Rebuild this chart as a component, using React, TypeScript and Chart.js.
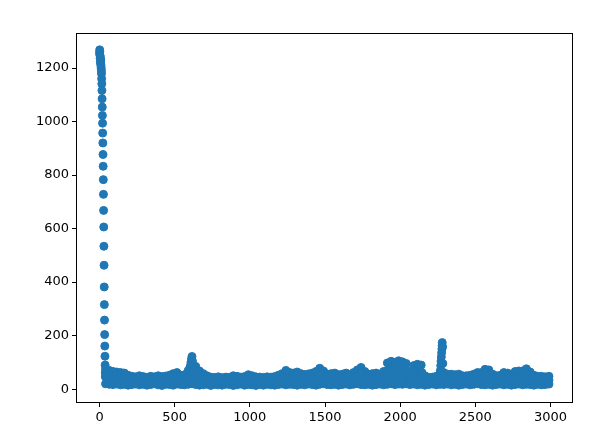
import React, { useEffect, useRef } from "react";
import { Chart, registerables } from "chart.js";

Chart.register(...registerables);

// Tick labels
const xTicks = [0, 500, 1000, 1500, 2000, 2500, 3000];
const yTicks = [0, 200, 400, 600, 800, 1000, 1200];

// Initial decay (index, value)
const decayX = [0, 1, 2, 3, 4, 5, 6, 7, 8, 9, 10, 11, 12, 13, 14, 15, 16, 17, 18, 19, 20, 21, 22, 23, 24, 25, 26, 27, 28, 29, 30, 31, 32, 33, 34, 35, 36, 37, 38, 39];
const decayY = [1255, 1268, 1262, 1248, 1236, 1242, 1225, 1218, 1230, 1212, 1205, 1198, 1190, 1179, 1160, 1141, 1116, 1085, 1054, 1023, 994, 957, 920, 877, 833, 783, 728, 668, 606, 534, 463, 382, 316, 258, 204, 161, 123, 90, 62, 48];

// Noise band sampled every 25 indices from 40 to 2990
const bandStart = 40;
const bandStep = 25;
const bandHigh = [
  75, 70, 66, 64, 62, 60, 52, 48, 46, 50,
  47, 44, 48, 46, 50, 47, 49, 52, 58, 62,
  52, 54, 70, 122, 85, 68, 58, 50, 45, 44,
  46, 43, 45, 44, 50, 48, 45, 47, 54, 50,
  46, 45, 44, 46, 45, 47, 52, 58, 70, 62,
  60, 64, 58, 55, 57, 60, 66, 78, 68, 56,
  58, 60, 54, 56, 60, 55, 62, 72, 81, 66,
  56, 58, 60, 56, 66, 98, 104, 100, 106, 102,
  96, 60, 88, 93, 90, 50, 44, 45, 48, 60,
  62, 56, 56, 54, 56, 50, 50, 52, 56, 62,
  62, 74, 72, 56, 50, 52, 62, 60, 50, 66,
  68, 68, 76, 64, 52, 48, 48, 46, 48,
];
const bandMid = [
  45, 42, 40, 38, 38, 36, 34, 32, 31, 33,
  32, 30, 32, 31, 33, 31, 33, 34, 36, 40,
  34, 35, 42, 50, 48, 40, 36, 33, 30, 30,
  31, 29, 30, 30, 32, 31, 30, 31, 35, 33,
  30, 31, 29, 31, 30, 31, 34, 36, 42, 38,
  37, 40, 36, 35, 36, 38, 40, 45, 42, 36,
  37, 38, 34, 35, 38, 35, 38, 44, 47, 40,
  36, 37, 38, 35, 40, 45, 48, 46, 50, 48,
  46, 38, 44, 46, 44, 32, 30, 31, 32, 38,
  40, 36, 35, 35, 35, 33, 33, 34, 36, 38,
  38, 44, 42, 35, 32, 34, 38, 38, 32, 40,
  42, 42, 45, 40, 33, 32, 32, 31, 33,
];
const bandLow = [
  20, 18, 17, 19, 16, 18, 15, 17, 19, 16,
  18, 15, 17, 20, 16, 14, 18, 17, 15, 19,
  17, 16, 18, 20, 17, 15, 16, 18, 14, 17,
  16, 15, 18, 17, 14, 16, 19, 15, 17, 16,
  14, 17, 15, 18, 16, 15, 17, 19, 16, 18,
  17, 15, 18, 16, 19, 17, 15, 18, 20, 17,
  16, 18, 15, 17, 19, 16, 18, 20, 17, 16,
  18, 15, 17, 19, 16, 18, 20, 17, 19, 18,
  20, 17, 19, 16, 18, 15, 17, 19, 16, 18,
  17, 19, 16, 18, 15, 17, 19, 16, 18, 20,
  17, 16, 18, 15, 17, 19, 16, 18, 15, 17,
  19, 16, 18, 17, 15, 18, 16, 17, 19,
];

// Extra points inside the spikes
const peakX = [595, 603, 608, 612, 618, 625, 632, 645, 1465, 1740, 2565, 2840,
  1915, 1930, 1940, 1955, 1965, 1980, 1990, 2000, 2015, 2030, 2040,
  2085, 2100, 2115, 2130, 2145,
  2268, 2270, 2272, 2274, 2276, 2278, 2279, 2280, 2282, 2284];
const peakY = [55, 85, 100, 112, 105, 88, 70, 60, 56, 58, 52, 55,
  70, 72, 78, 74, 75, 80, 72, 78, 74, 70, 72,
  64, 68, 66, 68, 62,
  70, 88, 104, 120, 136, 150, 162, 174, 158, 96];

const BLUE = "#1f77b4";

export default function App() {
  const ref = useRef<HTMLCanvasElement | null>(null);

  useEffect(() => {
    if (!ref.current) return;
    const pts: { x: number; y: number }[] = [];
    decayX.forEach((x, i) => pts.push({ x, y: decayY[i] }));
    bandHigh.forEach((_, i) => {
      const x = bandStart + i * bandStep;
      pts.push({ x, y: bandLow[i] });
      pts.push({ x, y: bandMid[i] });
      pts.push({ x, y: bandHigh[i] });
    });
    peakX.forEach((x, i) => pts.push({ x, y: peakY[i] }));

    const frame = {
      id: "frame",
      afterDraw(chart: any) {
        const { ctx, chartArea } = chart;
        ctx.save();
        ctx.strokeStyle = "#000";
        ctx.lineWidth = 1;
        ctx.strokeRect(
          Math.round(chartArea.left) - 0.5,
          Math.round(chartArea.top) + 0.5,
          Math.round(chartArea.right - chartArea.left),
          Math.round(chartArea.bottom - chartArea.top)
        );
        ctx.restore();
      },
    };

    const font = { family: "DejaVu Sans", size: 13 };
    const chart = new Chart(ref.current, {
      type: "scatter",
      data: {
        datasets: [
          {
            data: pts,
            backgroundColor: BLUE,
            borderColor: BLUE,
            borderWidth: 1,
            pointRadius: 4,
          },
        ],
      },
      options: {
        animation: false,
        responsive: false,
        devicePixelRatio: 1,
        layout: { padding: { left: 0, right: 22, top: 33, bottom: 0 } },
        plugins: { legend: { display: false }, tooltip: { enabled: false } },
        scales: {
          x: {
            type: "linear",
            min: -150,
            max: 3150,
            afterBuildTicks: (s: any) => {
              s.ticks = xTicks.map((v) => ({ value: v }));
            },
            afterFit: (s: any) => {
              s.height = 44;
            },
            border: { display: false },
            grid: {
              drawOnChartArea: false,
              drawTicks: true,
              tickLength: 5,
              color: "#000",
              lineWidth: 1,
            },
            ticks: {
              color: "#000",
              font,
              padding: 3,
              maxRotation: 0,
              autoSkip: false,
              callback: (v: any) => String(v),
            },
          },
          y: {
            type: "linear",
            min: -48,
            max: 1331,
            afterBuildTicks: (s: any) => {
              s.ticks = yTicks.map((v) => ({ value: v }));
            },
            afterFit: (s: any) => {
              s.width = 77;
            },
            border: { display: false },
            grid: {
              drawOnChartArea: false,
              drawTicks: true,
              tickLength: 5,
              color: "#000",
              lineWidth: 1,
            },
            ticks: {
              color: "#000",
              font,
              padding: 3,
              autoSkip: false,
              callback: (v: any) => String(v),
            },
          },
        },
      },
      plugins: [frame],
    });
    return () => chart.destroy();
  }, []);

  return (
    <div style={{ position: "absolute", left: 0, top: 0, width: 595, height: 446, background: "#fff" }}>
      <canvas ref={ref} width={595} height={446} style={{ width: 595, height: 446, display: "block" }} />
    </div>
  );
}
